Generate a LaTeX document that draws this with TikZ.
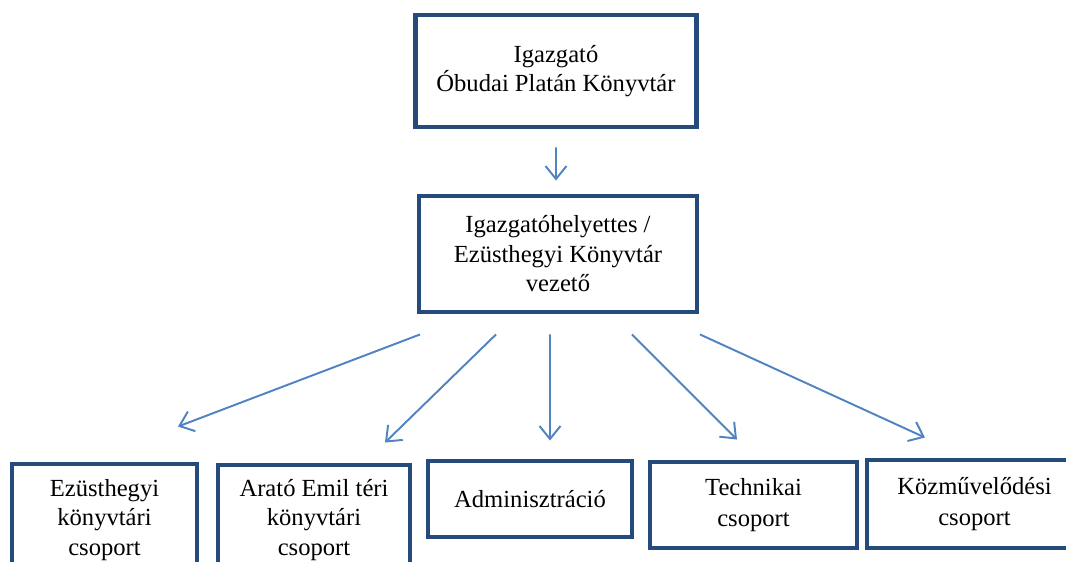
\documentclass[tikz,border=0pt]{standalone}
\usepackage{fontspec}
\setmainfont{Liberation Serif}
\usetikzlibrary{arrows.meta}
\definecolor{boxblue}{HTML}{254B7D}
\definecolor{arrblue}{HTML}{5083C0}
\begin{document}
\begin{tikzpicture}[
  box/.style={draw=boxblue, line width=2.8pt, align=center, inner sep=2pt,
    font=\fontsize{14}{16.8}\selectfont},
  arr/.style={draw=arrblue, line width=1.1pt,
    -{Straight Barb[length=2.6mm,width=4.2mm,line width=1.1pt]}}]
\useasboundingbox (0,0) rectangle (21.32,-11.24);
\clip (0,0) rectangle (21.32,-11.24);
\node[box, minimum width=5.62cm, minimum height=2.24cm] (dir) at (11.12,-1.42)
  {Igazgató\\Óbudai Platán Könyvtár};
\node[box, minimum width=5.56cm, minimum height=2.32cm] (dep) at (11.16,-5.08)
  {Igazgatóhelyettes /\\Ezüsthegyi Könyvtár\\vezető};
\node[box, minimum width=3.7cm, minimum height=2.24cm] (ezu) at (2.09,-10.4)
  {Ezüsthegyi\\könyvtári\\csoport};
\node[box, minimum width=3.84cm, minimum height=2.2cm] (ara) at (6.28,-10.4)
  {Arató Emil téri\\könyvtári\\csoport};
\node[box, minimum width=4.08cm, minimum height=1.52cm] (adm) at (10.6,-9.98)
  {Adminisztráció};
\node[box, minimum width=4.14cm, minimum height=1.72cm] (tec) at (15.07,-10.1)
  {Technikai\\[1pt]csoport};
\node[box, minimum width=4.3cm, minimum height=1.76cm] (koz) at (19.49,-10.08)
  {Közművelődési\\[1pt]csoport};
\draw[arr] ([yshift=-0.36cm]dir.south) -- ([xshift=-0.04cm,yshift=0.26cm]dep.north);
\draw[arr] ([xshift=-2.76cm,yshift=-0.4cm]dep.south) -- ([xshift=1.47cm,yshift=0.7cm]ezu.north);
\draw[arr] ([xshift=-1.24cm,yshift=-0.4cm]dep.south) -- ([xshift=1.42cm,yshift=0.4cm]ara.north);
\draw[arr] ([xshift=-0.16cm,yshift=-0.4cm]dep.south) -- ([xshift=0.4cm,yshift=0.36cm]adm.north);
\draw[arr] ([xshift=1.48cm,yshift=-0.4cm]dep.south) -- ([xshift=-0.33cm,yshift=0.4cm]tec.north);
\draw[arr] ([xshift=2.84cm,yshift=-0.4cm]dep.south) -- ([xshift=-0.99cm,yshift=0.4cm]koz.north);
\end{tikzpicture}
\end{document}
